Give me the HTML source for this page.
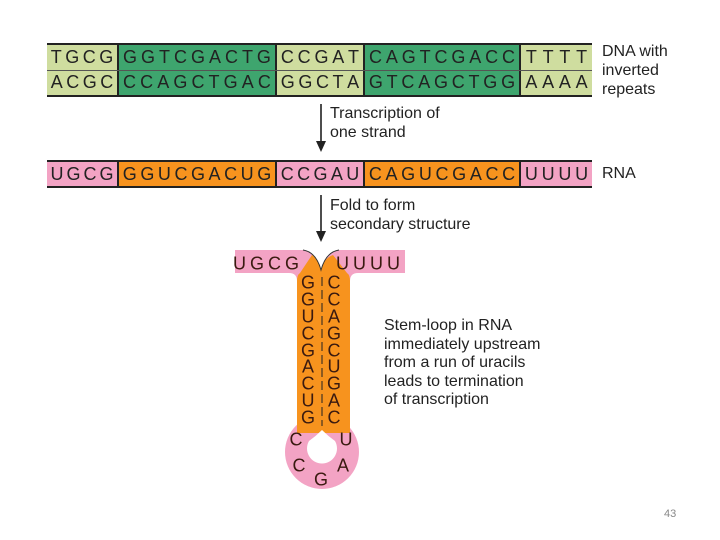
<!DOCTYPE html>
<html><head><style>
body{margin:0;width:720px;height:540px;background:#fff;position:relative;overflow:hidden;font-family:"Liberation Sans",sans-serif;color:#222}
.strip{position:absolute;display:flex;border-top:2px solid #222;border-bottom:2px solid #222;box-sizing:border-box}
.c{display:flex;justify-content:space-around;align-items:center;font-size:18px;box-sizing:border-box;border-right:2px solid #222;padding:0 2px}
.c:last-child{border-right:none}
.lg{background:#cfdd9f}.dg{background:#3ea56e}.pk{background:#f3a3c4}.or{background:#f7931e}
.t{position:absolute;font-size:16px;line-height:19px;color:#222}
.l{position:absolute;font-size:18px;transform:translate(-50%,-50%);color:#3a1a10}
</style></head><body>
<div class="strip" style="left:47px;top:43px;width:545px;height:54px;flex-direction:column">
 <div style="display:flex;height:26px;border-bottom:1px solid #555">
  <div class="c lg" style="width:72px"><span>T</span><span>G</span><span>C</span><span>G</span></div>
  <div class="c dg" style="width:158px"><span>G</span><span>G</span><span>T</span><span>C</span><span>G</span><span>A</span><span>C</span><span>T</span><span>G</span></div>
  <div class="c lg" style="width:88px"><span>C</span><span>C</span><span>G</span><span>A</span><span>T</span></div>
  <div class="c dg" style="width:156px"><span>C</span><span>A</span><span>G</span><span>T</span><span>C</span><span>G</span><span>A</span><span>C</span><span>C</span></div>
  <div class="c lg" style="width:71px"><span>T</span><span>T</span><span>T</span><span>T</span></div>
 </div>
 <div style="display:flex;height:25px">
  <div class="c lg" style="width:72px"><span>A</span><span>C</span><span>G</span><span>C</span></div>
  <div class="c dg" style="width:158px"><span>C</span><span>C</span><span>A</span><span>G</span><span>C</span><span>T</span><span>G</span><span>A</span><span>C</span></div>
  <div class="c lg" style="width:88px"><span>G</span><span>G</span><span>C</span><span>T</span><span>A</span></div>
  <div class="c dg" style="width:156px"><span>G</span><span>T</span><span>C</span><span>A</span><span>G</span><span>C</span><span>T</span><span>G</span><span>G</span></div>
  <div class="c lg" style="width:71px"><span>A</span><span>A</span><span>A</span><span>A</span></div>
 </div>
</div>
<div class="t" style="left:602px;top:42px">DNA with<br>inverted<br>repeats</div>

<div class="strip" style="left:47px;top:160px;width:545px;height:28px">
  <div class="c pk" style="width:72px"><span>U</span><span>G</span><span>C</span><span>G</span></div>
  <div class="c or" style="width:158px"><span>G</span><span>G</span><span>U</span><span>C</span><span>G</span><span>A</span><span>C</span><span>U</span><span>G</span></div>
  <div class="c pk" style="width:88px"><span>C</span><span>C</span><span>G</span><span>A</span><span>U</span></div>
  <div class="c or" style="width:156px"><span>C</span><span>A</span><span>G</span><span>U</span><span>C</span><span>G</span><span>A</span><span>C</span><span>C</span></div>
  <div class="c pk" style="width:71px"><span>U</span><span>U</span><span>U</span><span>U</span></div>
</div>
<div class="t" style="left:602px;top:164px">RNA</div>

<svg style="position:absolute;left:0;top:0" width="720" height="540">
 <g stroke="#222" stroke-width="1.6" fill="#222">
  <line x1="321" y1="104" x2="321" y2="146"/><polygon points="316,141 326,141 321,152" stroke="none"/>
  <line x1="321" y1="195" x2="321" y2="236"/><polygon points="316,231 326,231 321,242" stroke="none"/>
 </g>
 <circle cx="322" cy="452" r="37" fill="#f3a3c4"/>
 <path d="M235,250 L303,250 Q316,252 321,270 Q326,252 339,250 L405,250 L405,273 L358,273 Q350,273 350,281 L350,433 L297,433 L297,281 Q297,273 289,273 L235,273 Z" fill="#f3a3c4"/>
 <path d="M297,281 Q297,275 300,273 L312,255 Q318,258 321,270 Q324,258 333,255 L347,273 Q350,275 350,281 L350,433 L297,433 Z" fill="#f7931e"/>
 <path d="M303,250 Q316,252 321,270 Q326,252 339,250" fill="none" stroke="#333" stroke-width="1"/>
 <path d="M322,430 Q316,436 309,441 A15,15 0 1 0 335,441 Q328,436 322,430 Z" fill="#fff"/>
 <line x1="322" y1="277" x2="322" y2="426" stroke="#222" stroke-width="1" stroke-dasharray="9,4"/>
</svg>
<div class="l" style="left:268px;top:264px;letter-spacing:4px">UGCG</div>
<div class="l" style="left:370px;top:264px;letter-spacing:4px">UUUU</div>
<div class="l" style="left:308px;top:283px">G</div><div class="l" style="left:308px;top:300px">G</div><div class="l" style="left:308px;top:317px">U</div><div class="l" style="left:308px;top:334px">C</div><div class="l" style="left:308px;top:351px">G</div><div class="l" style="left:308px;top:367px">A</div><div class="l" style="left:308px;top:384px">C</div><div class="l" style="left:308px;top:401px">U</div><div class="l" style="left:308px;top:418px">G</div>
<div class="l" style="left:334px;top:283px">C</div><div class="l" style="left:334px;top:300px">C</div><div class="l" style="left:334px;top:317px">A</div><div class="l" style="left:334px;top:334px">G</div><div class="l" style="left:334px;top:351px">C</div><div class="l" style="left:334px;top:367px">U</div><div class="l" style="left:334px;top:384px">G</div><div class="l" style="left:334px;top:401px">A</div><div class="l" style="left:334px;top:418px">C</div>
<div class="l" style="left:296px;top:440px">C</div><div class="l" style="left:299px;top:466px">C</div><div class="l" style="left:321px;top:480px">G</div><div class="l" style="left:343px;top:466px">A</div><div class="l" style="left:346px;top:440px">U</div>

<div class="t" style="left:330px;top:104px">Transcription of<br>one strand</div>
<div class="t" style="left:330px;top:196px">Fold to form<br>secondary structure</div>
<div class="t" style="left:384px;top:317px;line-height:18.5px">Stem-loop in RNA<br>immediately upstream<br>from a run of uracils<br>leads to termination<br>of transcription</div>
<div style="position:absolute;left:664px;top:508px;font-size:11px;color:#888">43</div>
</body></html>
